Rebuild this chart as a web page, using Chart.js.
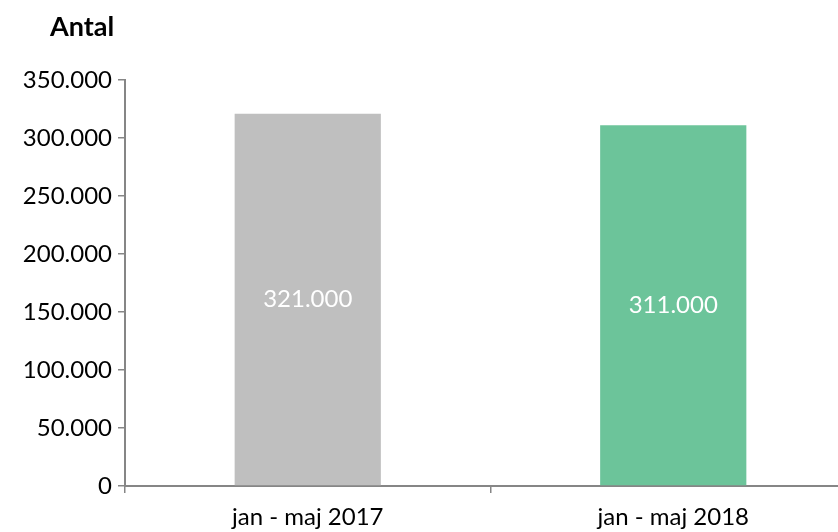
<!DOCTYPE html>
<html>
<head>
<meta charset="utf-8">
<script src="https://cdn.jsdelivr.net/npm/chart.js@4/dist/chart.umd.min.js"></script>
<style>
html,body{margin:0;padding:0;background:#fff;overflow:hidden;}
#wrap{width:856px;height:532px;position:relative;}
</style>
</head>
<body>
<div id="wrap"><canvas id="c"></canvas></div>
<script>
const categories = ["jan - maj 2017", "jan - maj 2018"];
const values = [321000, 311000];
const barColors = ["#bfbfbf", "#6cc49a"];
const yTitle = "Antal";
const yMax = 350000;
const yStep = 50000;

const FONT = "Lato, 'Open Sans', sans-serif";
const fmt = v => v === 0 ? "0" : v.toLocaleString("de-DE");

const labelPlugin = {
  id: "barLabels",
  afterDatasetsDraw(chart) {
    const ctx = chart.ctx;
    const meta = chart.getDatasetMeta(0);
    ctx.save();
    ctx.fillStyle = "#ffffff";
    ctx.font = "24px " + FONT;
    ctx.textAlign = "center";
    ctx.textBaseline = "middle";
    meta.data.forEach((bar, i) => {
      ctx.fillText(fmt(values[i]), bar.x, (bar.y + bar.base) / 2);
    });
    ctx.restore();
  }
};
const titlePlugin = {
  id: "yTitle",
  afterDraw(chart) {
    const ctx = chart.ctx;
    ctx.save();
    ctx.fillStyle = "#000";
    ctx.font = "bold 27px " + FONT;
    ctx.textAlign = "left";
    ctx.textBaseline = "middle";
    ctx.fillText(yTitle, 50, 27);
    ctx.restore();
  }
};

new Chart(document.getElementById("c"), {
  type: "bar",
  data: {
    labels: categories,
    datasets: [{ data: values, backgroundColor: barColors, borderWidth: 0,
      categoryPercentage: 1.0, barPercentage: 0.4 }]
  },
  options: {
    responsive: true,
    maintainAspectRatio: false,
    animation: false,
    layout: { padding: { top: 80, left: 0, right: 0, bottom: 0 } },
    plugins: { legend: { display: false }, tooltip: { enabled: false } },
    scales: {
      x: {
        grid: { display: true, drawOnChartArea: false, drawTicks: true, tickLength: 7, color: "#868686", lineWidth: 1.5, offset: true },
        border: { display: true, color: "#868686", width: 2 },
        ticks: { color: "#000", font: { family: FONT, size: 24 }, padding: 10, maxRotation: 0 },
        afterFit(s) { s.height = 46; }
      },
      y: {
        min: 0, max: yMax,
        grid: { display: true, drawOnChartArea: false, drawTicks: true, tickLength: 7, color: "#868686", lineWidth: 1.5 },
        border: { display: true, color: "#868686", width: 2 },
        ticks: { stepSize: yStep, color: "#000", font: { family: FONT, size: 24 }, padding: 6,
          callback: v => fmt(v) },
        afterFit(s) { s.width = 125; }
      }
    }
  },
  plugins: [labelPlugin, titlePlugin]
});
</script>
</body>
</html>
